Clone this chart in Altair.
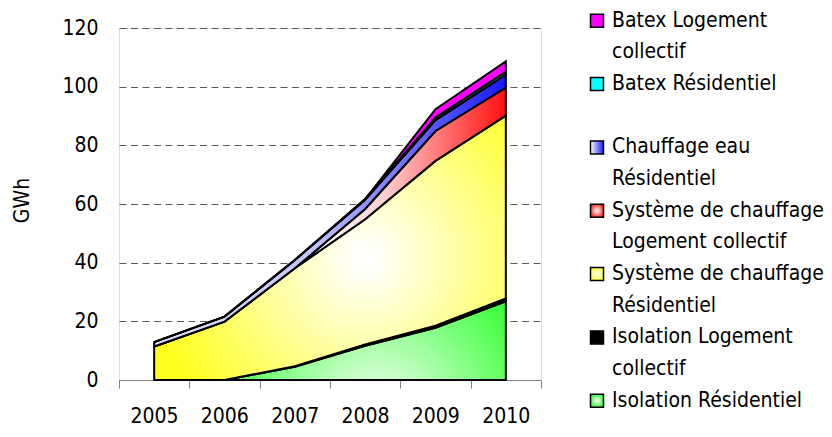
import altair as alt
import pandas as pd

years = [2005, 2006, 2007, 2008, 2009, 2010]

# series, bottom to top of the stack
series_names = [
    "Isolation Résidentiel",
    "Isolation Logement collectif",
    "Système de chauffage Résidentiel",
    "Système de chauffage Logement collectif",
    "Chauffage eau Résidentiel",
    "Batex Résidentiel",
    "Batex Logement collectif",
]
isolation_res = [0.0, 0.0, 4.5, 11.7, 17.8, 26.8]
isolation_lc = [0.0, 0.0, 0.2, 0.4, 0.7, 1.0]
systeme_res = [11.4, 19.9, 33.4, 42.7, 56.2, 62.3]
systeme_lc = [0.0, 0.0, 0.0, 3.5, 10.2, 9.6]
chauffage_eau = [1.5, 1.7, 2.8, 3.1, 3.7, 4.4]
batex_res = [0.0, 0.0, 0.0, 0.3, 0.9, 1.0]
batex_lc = [0.0, 0.0, 0.0, 0.0, 2.8, 3.5]
series_values = [isolation_res, isolation_lc, systeme_res, systeme_lc,
                 chauffage_eau, batex_res, batex_lc]

y_ticks = [0, 20, 40, 60, 80, 100, 120]
x_ticks = [2004.5, 2005.5, 2006.5, 2007.5, 2008.5, 2009.5, 2010.5]

# legend lines (text, series key shown with swatch on first line)
legend_lines = [
    ("Batex Logement", "Batex Logement collectif"),
    ("collectif", ""),
    ("Batex Résidentiel", "Batex Résidentiel"),
    ("", ""),
    ("Chauffage eau", "Chauffage eau Résidentiel"),
    ("Résidentiel", ""),
    ("Système de chauffage", "Système de chauffage Logement collectif"),
    ("Logement collectif", ""),
    ("Système de chauffage", "Système de chauffage Résidentiel"),
    ("Résidentiel", ""),
    ("Isolation Logement", "Isolation Logement collectif"),
    ("collectif", ""),
    ("Isolation Résidentiel", "Isolation Résidentiel"),
]

FONT = "DejaVu Sans Condensed, DejaVu Sans, sans-serif"
FS = 21


def stops(pairs):
    return [{"offset": o, "color": c} for o, c in pairs]


def radial(cx, cy, r, pairs):
    return {"gradient": "radial", "x1": cx, "y1": cy, "r1": 0,
            "x2": cx, "y2": cy, "r2": r, "stops": stops(pairs)}


def linear(pairs):
    return {"gradient": "linear", "x1": 0, "y1": 0, "x2": 1, "y2": 0,
            "stops": stops(pairs)}


area_fills = {
    "Isolation Résidentiel": radial(0.63, 0.72, 0.55, [(0, "#FFFFFF"), (1, "#1EFF1E")]),
    "Isolation Logement collectif": "#000000",
    "Système de chauffage Résidentiel": radial(0.6, 0.53, 0.62, [(0, "#FFFFFF"), (0.08, "#FFFFF6"), (1, "#FFFF1E")]),
    "Système de chauffage Logement collectif": linear([(0, "#FFFFFF"), (0.45, "#FFFFFF"), (0.65, "#FFD0D0"), (1, "#FF1010")]),
    "Chauffage eau Résidentiel": linear([(0, "#E0E0FF"), (0.45, "#C4C4FF"), (0.8, "#5555FF"), (1, "#1818FF")]),
    "Batex Résidentiel": "#00FFFF",
    "Batex Logement collectif": "#FF00FF",
}
swatch_fills = {
    "Isolation Résidentiel": radial(0.5, 0.5, 0.6, [(0, "#FFFFFF"), (1, "#1EFF1E")]),
    "Isolation Logement collectif": "#000000",
    "Système de chauffage Résidentiel": radial(0.5, 0.5, 0.6, [(0, "#FFFFFF"), (1, "#FFFF1E")]),
    "Système de chauffage Logement collectif": radial(0.5, 0.5, 0.6, [(0, "#FFFFFF"), (1, "#FF1010")]),
    "Chauffage eau Résidentiel": linear([(0, "#FFFFFF"), (1, "#1818FF")]),
    "Batex Résidentiel": "#00FFFF",
    "Batex Logement collectif": "#FF00FF",
}

rows = []
for order, (name, vals) in enumerate(zip(series_names, series_values)):
    for yr, v in zip(years, vals):
        rows.append({"year": yr, "series": name, "order": order, "value": v})
df = pd.DataFrame(rows)

base = alt.Chart(df).transform_stack(
    stack="value", groupby=["year"], as_=["y0", "y1"],
    sort=[alt.SortField("order", order="ascending")],
).encode(
    x=alt.X("year:Q", scale=alt.Scale(domain=[2004.5, 2010.5], nice=False, zero=False),
            axis=alt.Axis(values=x_ticks, title=None, grid=False,
                          labelExpr="datum.value < 2010 ? format(datum.value + 0.5, 'd') : ''",
                          labelOffset=35, labelAlign="center", labelFlush=False,
                          tickSize=8, tickColor="#808080", domainColor="#808080",
                          labelPadding=17, labelFont=FONT, labelFontSize=FS,
                          labelColor="#000000")),
    y=alt.Y("y1:Q", scale=alt.Scale(domain=[0, 120], nice=False),
            axis=alt.Axis(values=y_ticks, title="GWh", grid=True, ticks=False,
                          domain=False, gridColor="#5a5a5a", gridDash=[7, 4.5],
                          gridWidth=1.2, labelPadding=21, labelFont=FONT,
                          labelFontSize=FS, labelColor="#000000",
                          titleFont=FONT, titleFontSize=FS, titleFontWeight="normal",
                          titleColor="#000000", titlePadding=29, titleY=172)),
    y2="y0:Q",
)

layers = []
for name in series_names:
    layers.append(
        base.transform_filter(alt.datum.series == name).mark_area(
            fill=area_fills[name], stroke="#000000", strokeWidth=2, opacity=1,
            fillOpacity=1,
        )
    )
main = alt.layer(*layers)

# legend, drawn to the right of the plot with its own scales
leg_rows = [{"row": i, "text": t, "key": k} for i, (t, k) in enumerate(legend_lines)]
leg_df = pd.DataFrame(leg_rows)
ys = alt.Y("row:Q", scale=alt.Scale(domain=[0.2305, 11.3455], reverse=True, nice=False, zero=False), axis=None)
xs_scale = alt.Scale(domain=[-478, -56], nice=False, zero=False)

leg_text = alt.Chart(leg_df).transform_calculate(pos="15").mark_text(
    align="left", baseline="middle", font=FONT, fontSize=FS, color="#000000"
).encode(x=alt.X("pos:Q", scale=xs_scale, axis=None), y=ys, text="text:N")

leg_layers = [leg_text]
for name in series_names:
    leg_layers.append(
        alt.Chart(leg_df).transform_filter(alt.datum.key == name).transform_calculate(pos="0").mark_square(
            size=169, fill=swatch_fills[name], stroke="#000000", strokeWidth=1.5, opacity=1
        ).encode(x=alt.X("pos:Q", scale=xs_scale, axis=None), y=ys)
    )
legend = alt.layer(*leg_layers)

chart = alt.layer(main, legend).resolve_scale(
    x="independent", y="independent"
).properties(
    width=422, height=352,
    autosize=alt.AutoSizeParams(type="none"),
    padding={"left": 111, "top": 20, "right": 283, "bottom": 49},
).configure_view(stroke=None).configure(background="#FFFFFF")

chart.save("out.html", embed_options={"renderer": "svg", "actions": False})
